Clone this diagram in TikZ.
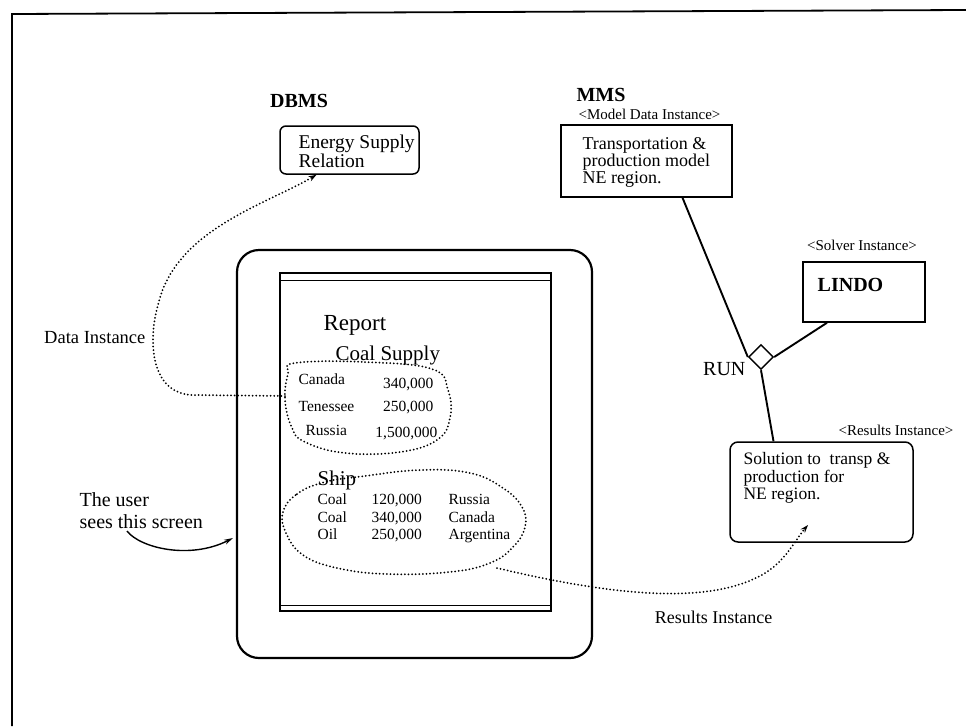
\documentclass[tikz,border=0pt]{standalone}
\usepackage{fontspec}
\setmainfont{Liberation Serif}
\usetikzlibrary{arrows.meta,calc,positioning,shapes.geometric}

\begin{document}
\begin{tikzpicture}[x=1pt,y=-1pt,line width=1.2pt,
    box/.style={draw,line width=1.5pt,inner sep=0pt},
    lbl/.style={inner sep=0pt},
    tag/.style={inner sep=0pt,font=\fontsize{15}{17}\selectfont},
    cell/.style={inner sep=0pt,anchor=base west,font=\fontsize{15.5}{15.5}\selectfont},
    link/.style={line width=1.9pt},
    dots/.style={line width=2pt,line cap=round,dash pattern=on 0pt off 3.6pt},
    dtip/.style={-{Stealth[length=8pt,width=5.5pt]}}]
  \useasboundingbox (0,0) rectangle (966,726);
  \draw[line width=1.8pt] (12,726) -- (12,14) -- (966,10);

  % DBMS side
  \node[lbl,font=\bfseries\fontsize{20}{24}\selectfont] (dbms) at (299,101) {DBMS};
  \node[box,rounded corners=6pt,minimum width=139pt,minimum height=48pt] (esr) at (349.5,150) {};
  \node[lbl,anchor=west,align=left,font=\fontsize{19.5}{16.5}\selectfont] (esrtxt) at (298,151) {Energy Supply\\Relation};

  % MMS side
  \node[lbl,font=\bfseries\fontsize{20}{24}\selectfont] (mms) at (601,95) {MMS};
  \node[tag] (mditag) at (649.5,114) {<Model Data Instance>};
  \node[box,minimum width=171pt,minimum height=72pt] (mdi) at (646.5,161) {};
  \node[lbl,anchor=west,align=left,font=\fontsize{18}{17}\selectfont] (mditxt) at (582,162) {Transportation \&\\production model\\NE region.};

  \node[tag] (soltag) at (862,245) {<Solver Instance>};
  \node[box,minimum width=122pt,minimum height=60pt] (lindo) at (864,292) {};
  \node[lbl,font=\bfseries\fontsize{20}{24}\selectfont] (lindotxt) at (850.5,285) {LINDO};

  \node[draw,diamond,line width=1.4pt,inner sep=0pt,minimum size=25pt] (run) at (761,357) {};
  \node[lbl,anchor=east,font=\fontsize{20}{24}\selectfont] (runtxt) at (746,369) {RUN};

  \node[tag] (restag) at (896,430) {<Results Instance>};
  \node[box,rounded corners=8pt,minimum width=183pt,minimum height=100pt] (res) at (821.5,492) {};
  \node[lbl,anchor=west,align=left,font=\fontsize{17.5}{17.5}\selectfont] (restxt) at (743,478) {Solution to~ transp \&\\production for\\NE region.};

  \draw[link] ([xshift=36pt]mdi.south) -- (run.west);
  \draw[link] ([xshift=-37pt]lindo.south) -- (run.east);
  \draw[link] (run.south) -- ([xshift=-48pt]res.north);

  % the screen
  \node[draw,line width=2.2pt,rounded corners=22pt,minimum width=355pt,minimum height=408pt] (screen) at (414.5,454) {};
  \node[draw,line width=1.6pt,inner sep=0pt,minimum width=271pt,minimum height=338pt] (win) at (415.5,442) {};
  \draw[line width=1.3pt] ([yshift=-8pt]win.north west) -- ([yshift=-8pt]win.north east);
  \draw[line width=1.3pt] ([yshift=6pt]win.south west) -- ([yshift=6pt]win.south east);

  \node[lbl,anchor=base west,font=\fontsize{23}{23}\selectfont] (rep) at (323,330) {Report};
  \node[lbl,anchor=base west,font=\fontsize{21}{21}\selectfont] (coal) at (335,360) {Coal Supply};
  \node[cell] (c1) at (298,384) {Canada};
  \node[cell] (c2) at (298,411) {Tenessee};
  \node[cell] (c3) at (305,435) {Russia};
  \node[cell,anchor=base east] (q1) at (434,388) {340,000};
  \node[cell,anchor=base east] (q2) at (434,411) {250,000};
  \node[cell,anchor=base east] (q3) at (438,437) {1,500,000};

  \node[lbl,anchor=base west,font=\fontsize{21}{21}\selectfont] (ship) at (317,485) {Ship};
  \node[cell] (s1) at (317,504) {Coal};
  \node[cell] (s2) at (317,522) {Coal};
  \node[cell] (s3) at (317,539) {Oil};
  \node[cell] (t1) at (371,504) {120,000};
  \node[cell] (t2) at (371,522) {340,000};
  \node[cell] (t3) at (371,539) {250,000};
  \node[cell] (d1) at (448,504) {Russia};
  \node[cell] (d2) at (448,522) {Canada};
  \node[cell] (d3) at (448,539) {Argentina};

  % dotted rings
  \draw[dots] plot[smooth cycle,tension=0.7] coordinates {(295,363) (365,362) (432,369) (448,390) (450,418) (437,440) (400,452) (345,453) (305,442) (292,428) (285,400) (288,374)};
  \draw[dots] plot[smooth cycle,tension=0.7] coordinates {(283,512) (297,494) (325,482) (365,476) (420,470) (470,473) (503,488) (522,507) (525,527) (513,547) (490,563) (450,572) (387,574) (337,568) (303,555) (286,533)};
  \coordinate (coalw) at (285,396);
  \coordinate (shipse) at (497,568);
  \coordinate (restip) at (808,525);

  \node[lbl,anchor=base east,font=\fontsize{18.5}{18.5}\selectfont] (datainst) at (146,343) {Data Instance};
  \draw[dots,dtip] (coalw) -- (192,395) .. controls (150,393) and (148,340) .. (158,305) .. controls (175,230) and (265,205) .. ([xshift=-33pt]esr.south);

  \node[lbl,anchor=base,font=\fontsize{18}{18}\selectfont] (resinst) at (713.5,623) {Results Instance};
  \draw[dots,dtip] (shipse) .. controls (610,595) and (705,605) .. (760,576) .. controls (785,563) and (795,540) .. (restip);

  % the user
  \node[lbl,anchor=base west,font=\fontsize{20}{20}\selectfont] (user1) at (79,506) {The user};
  \node[lbl,anchor=base west,font=\fontsize{20}{20}\selectfont] (user2) at (79,528) {sees this screen};
  \coordinate (seen) at (233,538);
  \draw[line width=1.4pt,-{Stealth[length=9pt,width=5pt]}] ($(user2.base west)+(48,3)$) .. controls (140,548) and (190,560) .. (seen);
\end{tikzpicture}
\end{document}
